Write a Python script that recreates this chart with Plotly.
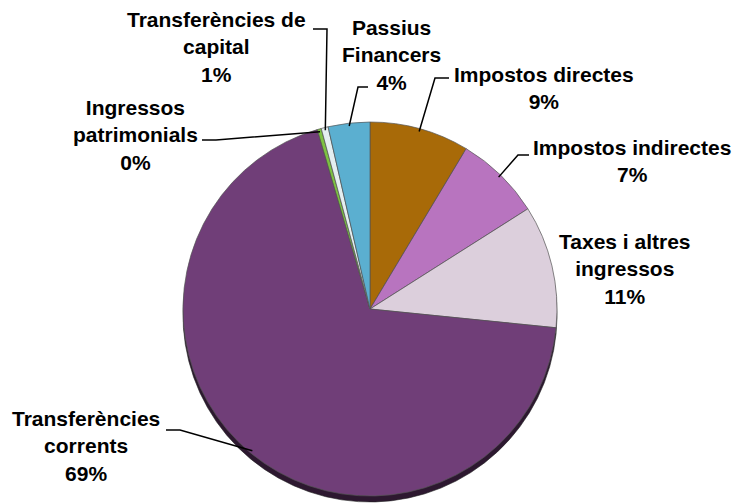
import math
import plotly.graph_objects as go

# Pressupost d'ingressos per capítols
labels = ['Impostos directes', 'Impostos indirectes', 'Taxes i altres ingressos',
          'Transferències corrents', 'Ingressos patrimonials',
          'Transferències de capital', 'Passius Financers']
values = [8.6, 7.4, 10.6, 68.85, 0.35, 0.6, 3.6]
label_text = ['Impostos directes', 'Impostos indirectes', 'Taxes i altres<br>ingressos',
              'Transferències<br>corrents', 'Ingressos<br>patrimonials',
              'Transferències de<br>capital', 'Passius<br>Financers']
colors = ['#A86A08', '#B874BF', '#DCCFDC', '#703E78', '#7DC142', '#E4EEF0', '#5BAFD0']
shadow_colors = ['#4A2F04', '#5A3560', '#6A606A', '#2D1830', '#3A5A1E', '#6A7070', '#2A5566']

OFF = 8                      # page body margin
W, H = 742 - OFF, 504 - OFF  # figure size
cx, cy, R = 370, 309, 187    # pie centre / radius in screen pixels
depth = 6                    # thickness of the 3D rim

# label placement (screen pixels): text centre, elbow of the leader, end of leader
text_pos = [(544, 88), (632, 161), (625, 269), (86, 446), (135, 135), (216, 47), (392, 55)]
elbows = [((435, 78), (449, 78)), ((518, 155), (529, 155)), None,
          ((180, 430), (166, 430)), ((216, 140), (202, 140)),
          ((327, 29), (313, 29)), ((358, 87), (368, 87))]


def px(x):
    return (x - OFF) / W


def py(y):
    return 1 - (y - OFF) / H


fig = go.Figure()

# darker copy underneath gives the rim of the 3D pie
fig.add_trace(go.Pie(labels=labels, values=values, sort=False, direction='clockwise',
                     marker=dict(colors=shadow_colors, line=dict(color='#222222', width=0.6)),
                     textinfo='none', hoverinfo='skip', showlegend=False,
                     domain=dict(x=[px(cx - R), px(cx + R)], y=[py(cy + R + depth), py(cy - R + depth)])))

fig.add_trace(go.Pie(labels=labels, values=values, sort=False, direction='clockwise',
                     marker=dict(colors=colors, line=dict(color='#555555', width=0.7)),
                     textinfo='none', showlegend=False,
                     domain=dict(x=[px(cx - R), px(cx + R)], y=[py(cy + R), py(cy - R)])))

total = sum(values)
shapes = []
annotations = []
cum = 0
for i, v in enumerate(values):
    mid = (cum + v / 2) / total * 2 * math.pi
    cum += v
    pct = round(v / total * 100)
    tx, ty = text_pos[i]
    annotations.append(dict(x=px(tx), y=py(ty), xref='paper', yref='paper',
                            text=f'<b>{label_text[i]}<br>{pct}%</b>', showarrow=False,
                            xanchor='center', yanchor='middle', align='center',
                            font=dict(family='Liberation Sans, Arial', size=21, color='black')))
    if elbows[i] is None:
        continue
    ex = cx + 0.985 * R * math.sin(mid)
    ey = cy - 0.985 * R * math.cos(mid)
    (bx, by), (ax, ay) = elbows[i]
    shapes.append(dict(type='path', xref='paper', yref='paper',
                       path=f'M {px(ex)} {py(ey)} L {px(bx)} {py(by)} L {px(ax)} {py(ay)}',
                       line=dict(color='black', width=1.5)))

fig.update_layout(width=W, height=H, margin=dict(l=0, r=0, t=0, b=0),
                  paper_bgcolor='white', plot_bgcolor='white',
                  font=dict(family='Liberation Sans, Arial'),
                  shapes=shapes, annotations=annotations)

fig.write_html('out.html')
